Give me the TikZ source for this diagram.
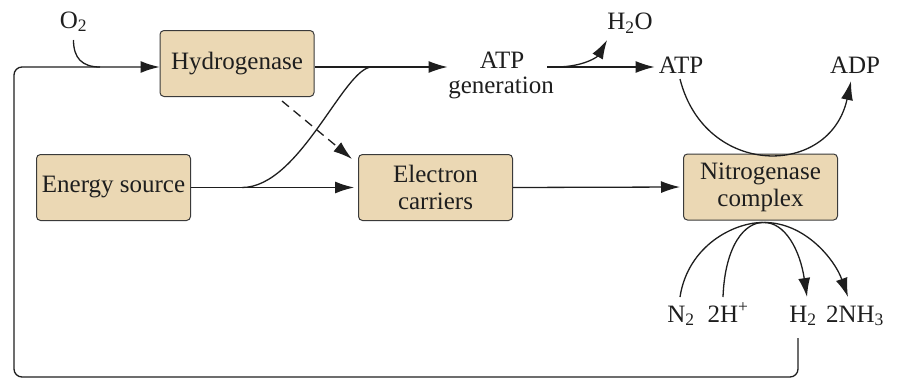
\documentclass[tikz,border=0pt]{standalone}
\usepackage{fontspec}
\setmainfont{Liberation Serif}
\usetikzlibrary{arrows.meta,calc}
\definecolor{boxfill}{HTML}{EBD8B4}
\definecolor{boxline}{HTML}{3A3A3A}
\definecolor{ink}{HTML}{1E1E1E}
\begin{document}
\begin{tikzpicture}[x=1pt,y=-1pt,
  every node/.style={font=\fontsize{25}{27}\selectfont, text=ink},
  proc/.style={draw=boxline, fill=boxfill, rounded corners=4pt, line width=1pt,
    minimum width=154pt, minimum height=66pt, inner sep=0pt, align=center},
  lbl/.style={inner sep=0pt, anchor=base},
  conn/.style={draw=ink, line width=1.3pt},
  arr/.style={conn, -{Latex[length=19pt,width=12pt]}},
]
\useasboundingbox (0,0) rectangle (898,380);

% boxes
\node[proc] (hyd) at (237,63.5) {Hydrogenase};
\node[proc] (energy) at (113.5,187.5) {Energy source};
\node[proc] (elec) at (435.5,187.5) {Electron\\carriers};
\node[proc] (nit) at (760.5,187) {Nitrogenase\\complex};

% labels
\node[lbl] (o2) at (73.5,28) {O\textsubscript{2}};
\node[lbl] (atp1) at (502,68) {ATP};
\node[lbl] (gen) at (501,93) {generation};
\node[lbl] (h2o) at (630,30) {H\textsubscript{2}O};
\node[lbl] (atp) at (681,73) {ATP};
\node[lbl] (adp) at (855,73) {ADP};
\node[lbl] (n2) at (681,322) {N\textsubscript{2}};
\node[lbl] (hplus) at (728,322) {2H\textsuperscript{+}};
\node[lbl] (h2) at (803,322) {H\textsubscript{2}};
\node[lbl] (nh3) at (855,322) {2NH\textsubscript{3}};

% coordinates
\coordinate (hin) at ($(hyd.west)+(0,3.5)$);
\coordinate (hout) at ($(hyd.east)+(0,3.5)$);
\coordinate (gin) at ($(atp1.base west)+(-32,-1)$);
\coordinate (gout) at ($(atp1.base east)+(23,-1)$);
\coordinate (nb) at ($(nit.south)+(3,2)$);
\coordinate (h2d) at ($(h2.base)+(-5,16)$);
\coordinate (o2d) at ($(o2.base)+(0,12)$);

% feedback loop from H2 to hydrogenase
\draw[arr, rounded corners=8pt] (h2d) -- (798,377) -- (14,377) -- (14,67) -- (hin);
% O2 joining
\draw[conn] (o2d) .. controls (73.5,58) and (82,67) .. (100,67);
% hydrogenase -> ATP generation
\draw[arr] (hout) -- (gin);
% energy source -> electron carriers
\draw[arr, shorten >=4pt] (energy.east) -- (elec.west);
% energy source branch up to ATP generation line
\draw[conn] ($(energy.east)+(51,0)$) .. controls (300,187.5) and (344,67) .. (372,67);
% dashed hydrogenase -> electron carriers
\draw[arr, dash pattern=on 9pt off 6pt] ($(hyd.south)+(45,4)$) -- ($(elec.north west)+(-6,5)$);
% electron carriers -> nitrogenase
\draw[arr, shorten >=3pt] (elec.east) -- (nit.west);
% ATP generation -> ATP
\draw[arr] (gout) -- ($(atp.base west)+(-4,-6)$);
% ATP generation -> H2O
\draw[arr] (555,67) .. controls (585,67) and (598,56) .. ($(h2o.base west)+(0,10)$);
% ATP -> ADP via nitrogenase
\draw[arr] ($(atp.base)+(-1,6)$) .. controls (705,178) and (830,178) .. ($(adp.base)+(-4,8)$);
% substrates and products
\draw[conn] ($(n2.base)+(-1,-25)$) .. controls (688,245) and (735,222) .. (nb);
\draw[conn] ($(hplus.base)+(-5,-25)$) .. controls (725,245) and (745,222) .. (nb);
\draw[arr] (nb) .. controls (785,222) and (800,250) .. ($(h2.base)+(4,-25)$);
\draw[arr] (nb) .. controls (805,222) and (835,260) .. ($(nh3.base)+(-7,-25)$);
\end{tikzpicture}
\end{document}
